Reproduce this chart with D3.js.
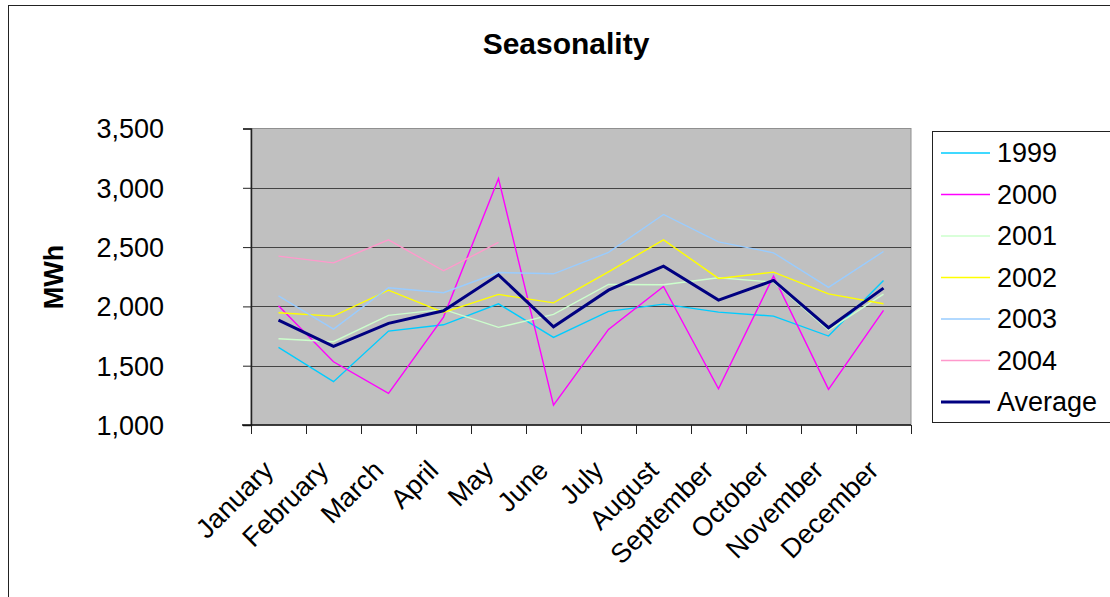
<!DOCTYPE html>
<html>
<head>
<meta charset="utf-8">
<script src="https://cdn.jsdelivr.net/npm/d3@7"></script>
<style>
  html, body { margin: 0; padding: 0; background: #fff; }
  svg text { font-family: "Liberation Sans", Arial, sans-serif; }
</style>
</head>
<body>
<svg id="chart" width="1110" height="597"></svg>
<script>
const months = ["January","February","March","April","May","June","July","August","September","October","November","December"];
const yTicks = [1000, 1500, 2000, 2500, 3000, 3500];
const seriesNames = ["1999","2000","2001","2002","2003","2004","Average"];
const seriesColors = ["#00CCFF","#FF00FF","#CCFFCC","#FFFF00","#99CCFF","#FF99CC","#000080"];
const v1999 = [1654, 1365, 1792, 1845, 2022, 1739, 1958, 2019, 1952, 1918, 1750, 2219];
const v2000 = [2005, 1533, 1267, 1910, 3078, 1168, 1806, 2168, 1306, 2255, 1301, 1966];
const v2001 = [1727, 1702, 1924, 1975, 1823, 1932, 2185, 2182, 2241, 2205, 1800, 2104];
const v2002 = [1946, 1918, 2137, 1949, 2101, 2030, 2292, 2561, 2236, 2289, 2106, 2022];
const v2003 = [2089, 1809, 2157, 2115, 2286, 2275, 2455, 2775, 2544, 2452, 2160, 2463];
const v2004 = [2424, 2367, 2561, 2300, 2539];
const vAverage = [1885, 1663, 1857, 1963, 2266, 1828, 2137, 2339, 2053, 2219, 1820, 2154];
const seriesValues = [v1999, v2000, v2001, v2002, v2003, v2004, vAverage];

const svg = d3.select("#chart");
const L = 251, R = 911, T = 128.5, B = 425;

// outer chart border
svg.append("rect").attr("x", 8.5).attr("y", 5.5).attr("width", 1200).attr("height", 700)
  .attr("fill", "#fff").attr("stroke", "#222").attr("stroke-width", 1);

const x = d3.scaleBand().domain(months).range([L, R]).padding(0);
const y = d3.scaleLinear().domain([1000, 3500]).range([B, T]);

// plot area
svg.append("rect").attr("x", L).attr("y", T).attr("width", R - L).attr("height", B - T)
  .attr("fill", "#C0C0C0").attr("stroke", "#909090").attr("stroke-width", 1);

// gridlines
svg.append("g").selectAll("line").data(yTicks.filter(d => d > 1000 && d < 3500)).join("line")
  .attr("x1", L).attr("x2", R).attr("y1", d => Math.round(y(d)) + 0.5).attr("y2", d => Math.round(y(d)) + 0.5)
  .attr("stroke", "#444").attr("stroke-width", 1);

// y axis
const yAxis = svg.append("g").attr("transform", `translate(${L},0)`)
  .call(d3.axisLeft(y).tickValues(yTicks).tickFormat(d3.format(",")).tickSize(8).tickPadding(79));
yAxis.select(".domain").attr("stroke", "#222").attr("stroke-width", 1.5);
yAxis.selectAll(".tick line").attr("stroke", "#222");
yAxis.selectAll(".tick text").attr("font-size", 27).attr("fill", "#000")
  .attr("font-family", "Liberation Sans, Arial, sans-serif").attr("dy", "0.35em");

// x axis (labels)
const xAxis = svg.append("g").attr("transform", `translate(0,${B})`)
  .call(d3.axisBottom(x).tickSize(0).tickPadding(0));
xAxis.select(".domain").remove();
xAxis.selectAll(".tick text")
  .attr("font-size", 27).attr("fill", "#000")
  .attr("font-family", "Liberation Sans, Arial, sans-serif")
  .attr("text-anchor", "end")
  .attr("y", 0).attr("dy", 0)
  .attr("transform", "translate(-3.5,47) rotate(-45)");
// x axis line and ticks at band boundaries
svg.append("line").attr("x1", L - 9).attr("x2", R).attr("y1", B).attr("y2", B)
  .attr("stroke", "#111").attr("stroke-width", 1.5);
const edges = months.map(m => x(m)).concat([x(months[months.length - 1]) + x.bandwidth()]);
svg.append("g").selectAll("line").data(edges).join("line")
  .attr("x1", d => Math.round(d) + 0.5).attr("x2", d => Math.round(d) + 0.5)
  .attr("y1", B).attr("y2", B + 9).attr("stroke", "#222").attr("stroke-width", 1);

// lines
const line = d3.line().x((d, i) => x(months[i]) + x.bandwidth() / 2).y(d => y(d));
seriesValues.forEach((vals, i) => {
  svg.append("path").datum(vals).attr("d", line)
    .attr("fill", "none").attr("stroke", seriesColors[i])
    .attr("stroke-width", seriesNames[i] === "Average" ? 3 : 1.4)
    .attr("stroke-linejoin", "miter");
});

// title
svg.append("text").attr("x", 566).attr("y", 54).attr("text-anchor", "middle")
  .attr("font-size", 30).attr("font-weight", "bold").text("Seasonality");

// y axis title
svg.append("text").attr("transform", "translate(63,277) rotate(-90)").attr("text-anchor", "middle")
  .attr("font-size", 27).attr("font-weight", "bold").text("MWh");

// legend
svg.append("rect").attr("x", 932.5).attr("y", 131.5).attr("width", 300).attr("height", 291)
  .attr("fill", "#fff").attr("stroke", "#222").attr("stroke-width", 1);
const lg = svg.append("g").selectAll("g").data(seriesNames).join("g")
  .attr("transform", (d, i) => `translate(0,${153 + i * 41.5})`);
lg.append("line").attr("x1", 941).attr("x2", 990).attr("y1", 0).attr("y2", 0)
  .attr("stroke", (d, i) => seriesColors[i]).attr("stroke-width", (d) => d === "Average" ? 3 : 1.5);
lg.append("text").attr("x", 997).attr("y", 0).attr("dy", "0.35em")
  .attr("font-size", 27).attr("fill", "#000").text(d => d);
</script>
</body>
</html>
